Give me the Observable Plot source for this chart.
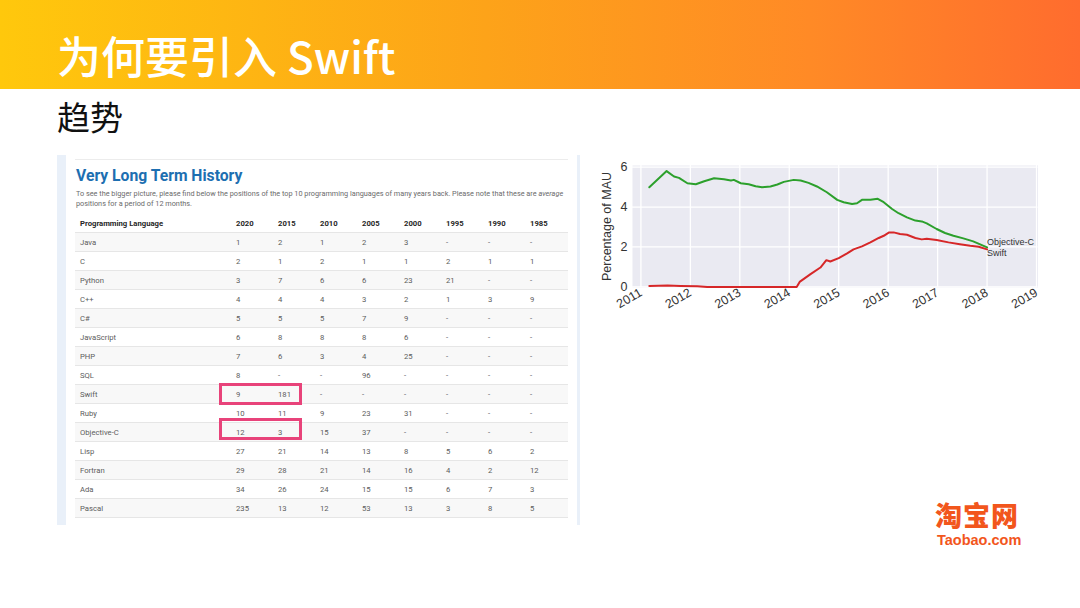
<!DOCTYPE html>
<html>
<head>
<meta charset="utf-8">
<script src="https://cdn.jsdelivr.net/npm/d3@7"></script>
<script src="https://cdn.jsdelivr.net/npm/@observablehq/plot@0.6"></script>
<style>
  html, body { margin: 0; padding: 0; }
  body { width: 1080px; height: 608px; position: relative; background: #ffffff; overflow: hidden; font-family: "Noto Sans CJK SC", "Noto Sans", sans-serif; }
  #header { position: absolute; left: 0; top: 0; width: 1080px; height: 89px;
    background: linear-gradient(90deg, #ffc80c 0%, #fda319 45%, #ff8a26 75%, #ff6c2e 100%); }
  #title { position: absolute; left: 57px; top: 33px; font-size: 44px; line-height: 44px; color: #ffffff; white-space: nowrap; font-weight: 500; }
  #subtitle { position: absolute; left: 57px; top: 100px; font-size: 33px; line-height: 33px; color: #111; white-space: nowrap; }
  #panel { position: absolute; left: 57px; top: 155px; width: 523px; height: 370px; background: #e9f0f9; }
  #panelInner { position: absolute; left: 9px; top: 0px; width: 511px; height: 370px; background: #ffffff; }
  #topline { position: absolute; left: 75px; top: 159px; width: 493px; height: 1px; background: #ececec; }
  #tblTitle { position: absolute; left: 76px; top: 166px; font-family: Roboto, "Liberation Sans", sans-serif; font-weight: 700; font-size: 15.7px; line-height: 20px; color: #1d6fb1; white-space: nowrap; }
  .desc { position: absolute; left: 76px; font-family: Roboto, "Liberation Sans", sans-serif; font-size: 7.3px; line-height: 10px; color: #6b6b6b; white-space: nowrap; }
  table#tiobe { position: absolute; left: 75px; top: 214px; width: 493px; border-collapse: collapse; table-layout: fixed;
    font-family: Roboto, "Liberation Sans", sans-serif; font-size: 7.7px; color: #5c5c5c; }
  #tiobe td, #tiobe th { height: 18px; padding: 0 0 0 5px; text-align: left; border-bottom: 1px solid #e6e6e6; white-space: nowrap; }
  #tiobe th { color: #262626; font-weight: 700; }
  #tiobe tbody tr:nth-child(odd) td { background: #f8f8f8; }
  .hl { position: absolute; border: 3.5px solid #e8437a; box-sizing: border-box; }
  #chart { position: absolute; left: 588px; top: 150px; }
  #logo1 { position: absolute; left: 935px; top: 501px; font-size: 27px; line-height: 27px; font-weight: 900; color: #f2561c; white-space: nowrap; letter-spacing: 1px; }
  #logo2 { position: absolute; left: 937px; top: 533px; font-family: "Liberation Sans", sans-serif; font-size: 14.5px; line-height: 14px; font-weight: 700; color: #f2561c; white-space: nowrap; }
</style>
</head>
<body>
<div id="header"></div>
<div id="title">为何要引入 Swift</div>
<div id="subtitle">趋势</div>

<div id="panel"><div id="panelInner"></div></div>
<div id="topline"></div>
<div id="tblTitle">Very Long Term History</div>
<div class="desc" style="top:189px">To see the bigger picture, please find below the positions of the top 10 programming languages of many years back. Please note that these are <i>average</i></div>
<div class="desc" style="top:199px">positions for a period of 12 months.</div>
<table id="tiobe">
  <colgroup><col style="width:156px"><col style="width:42px"><col style="width:42px"><col style="width:42px"><col style="width:42px"><col style="width:42px"><col style="width:42px"><col style="width:42px"><col style="width:43px"></colgroup>
  <thead><tr id="headRow"></tr></thead>
  <tbody id="tbody"></tbody>
</table>
<div class="hl" style="left:219px; top:383px; width:83px; height:22px;"></div>
<div class="hl" style="left:219px; top:418px; width:83px; height:22px;"></div>

<div id="chart"></div>

<div id="logo1">淘宝网</div>
<div id="logo2">Taobao.com</div>

<script>
// ---------- Table data ----------
const tableColumns = ["Programming Language", "2020", "2015", "2010", "2005", "2000", "1995", "1990", "1985"];
const languages = ["Java", "C", "Python", "C++", "C#", "JavaScript", "PHP", "SQL", "Swift", "Ruby", "Objective-C", "Lisp", "Fortran", "Ada", "Pascal"];
const ranks = [
  ["1", "2", "1", "2", "3", "-", "-", "-"],
  ["2", "1", "2", "1", "1", "2", "1", "1"],
  ["3", "7", "6", "6", "23", "21", "-", "-"],
  ["4", "4", "4", "3", "2", "1", "3", "9"],
  ["5", "5", "5", "7", "9", "-", "-", "-"],
  ["6", "8", "8", "8", "6", "-", "-", "-"],
  ["7", "6", "3", "4", "25", "-", "-", "-"],
  ["8", "-", "-", "96", "-", "-", "-", "-"],
  ["9", "181", "-", "-", "-", "-", "-", "-"],
  ["10", "11", "9", "23", "31", "-", "-", "-"],
  ["12", "3", "15", "37", "-", "-", "-", "-"],
  ["27", "21", "14", "13", "8", "5", "6", "2"],
  ["29", "28", "21", "14", "16", "4", "2", "12"],
  ["34", "26", "24", "15", "15", "6", "7", "3"],
  ["235", "13", "12", "53", "13", "3", "8", "5"]
];

// ---------- Line chart data (percentage of MAU) ----------
const objcYears = [2011.17, 2011.52, 2011.67, 2011.77, 2011.94, 2012.11, 2012.28, 2012.48, 2012.68, 2012.82, 2012.88, 2013.02, 2013.18, 2013.32, 2013.45, 2013.62, 2013.76, 2013.89, 2014.09, 2014.23, 2014.39, 2014.56, 2014.76, 2014.97, 2015.10, 2015.27, 2015.37, 2015.47, 2015.64, 2015.79, 2015.91, 2016.08, 2016.21, 2016.38, 2016.55, 2016.68, 2016.78, 2016.98, 2017.15, 2017.32, 2017.52, 2017.72, 2018.00];
const objcValues = [4.99, 5.80, 5.53, 5.46, 5.19, 5.14, 5.29, 5.44, 5.39, 5.33, 5.36, 5.19, 5.14, 5.04, 4.99, 5.03, 5.13, 5.26, 5.36, 5.33, 5.21, 5.03, 4.74, 4.36, 4.24, 4.15, 4.19, 4.36, 4.36, 4.41, 4.24, 3.90, 3.69, 3.48, 3.32, 3.28, 3.18, 2.90, 2.70, 2.56, 2.43, 2.28, 1.98];
const swiftYears = [2011.17, 2011.54, 2011.80, 2012.14, 2012.34, 2013.00, 2013.60, 2014.15, 2014.21, 2014.43, 2014.63, 2014.75, 2014.83, 2015.00, 2015.17, 2015.30, 2015.47, 2015.64, 2015.81, 2015.91, 2016.02, 2016.11, 2016.24, 2016.38, 2016.55, 2016.68, 2016.78, 2016.98, 2017.22, 2017.45, 2017.66, 2017.83, 2018.00];
const swiftValues = [0.05, 0.07, 0.05, 0.03, 0.00, 0.00, 0.00, 0.00, 0.25, 0.64, 0.97, 1.34, 1.27, 1.44, 1.68, 1.88, 2.03, 2.23, 2.45, 2.56, 2.73, 2.73, 2.65, 2.61, 2.45, 2.38, 2.41, 2.35, 2.23, 2.14, 2.06, 2.01, 1.88];
const seriesNames = ["Objective-C", "Swift"];
const xTicks = [2011, 2012, 2013, 2014, 2015, 2016, 2017, 2018, 2019];
const yTicks = [0, 2, 4, 6];

// ---------- Build table ----------
const headRow = document.getElementById("headRow");
tableColumns.forEach(c => { const th = document.createElement("th"); th.textContent = c; headRow.appendChild(th); });
const tbody = document.getElementById("tbody");
languages.forEach((lang, i) => {
  const tr = document.createElement("tr");
  const td0 = document.createElement("td"); td0.textContent = lang; tr.appendChild(td0);
  ranks[i].forEach(v => { const td = document.createElement("td"); td.textContent = v; tr.appendChild(td); });
  tbody.appendChild(tr);
});

// ---------- Build chart ----------
const rows = [];
objcYears.forEach((x, i) => rows.push({series: seriesNames[0], x, y: objcValues[i]}));
swiftYears.forEach((x, i) => rows.push({series: seriesNames[1], x, y: swiftValues[i]}));
const objcLast = [{series: seriesNames[0], x: objcYears[objcYears.length - 1], y: objcValues[objcValues.length - 1]}];
const swiftLast = [{series: seriesNames[1], x: swiftYears[swiftYears.length - 1], y: swiftValues[swiftValues.length - 1]}];

const chart = Plot.plot({
  width: 460,
  height: 177,
  marginLeft: 44,
  marginRight: 10.5,
  marginTop: 15,
  marginBottom: 40,
  style: {fontFamily: "'Liberation Sans', Arial, sans-serif", fontSize: "12px", color: "#333", background: "transparent"},
  x: {domain: [2010.83, 2019.03]},
  y: {domain: [-0.03, 6.08]},
  color: {domain: seriesNames, range: ["#2ca02c", "#d62728"]},
  marks: [
    Plot.frame({fill: "#eaeaf2", stroke: null}),
    Plot.gridX(xTicks, {stroke: "#ffffff", strokeOpacity: 1, strokeWidth: 1.3}),
    Plot.gridY(yTicks, {stroke: "#ffffff", strokeOpacity: 1, strokeWidth: 1.3}),
    Plot.axisY(yTicks, {tickSize: 0, tickPadding: 5, label: "Percentage of MAU", labelAnchor: "center", labelArrow: "none", labelOffset: 30, fontSize: 12.5, fill: "#333"}),
    Plot.axisX(xTicks, {tickSize: 0, tickPadding: 4, tickRotate: -30, tickFormat: d => String(d), label: null, fontSize: 12.5, fill: "#333"}),
    Plot.line(rows, {x: "x", y: "y", z: "series", stroke: "series", strokeWidth: 2, curve: "linear"}),
    Plot.text(objcLast, {x: "x", y: "y", text: "series", dy: -5, textAnchor: "start", fontSize: 9, fill: "#333"}),
    Plot.text(swiftLast, {x: "x", y: "y", text: "series", dy: 4, textAnchor: "start", fontSize: 9, fill: "#333"})
  ]
});
document.getElementById("chart").appendChild(chart);
</script>
</body>
</html>
